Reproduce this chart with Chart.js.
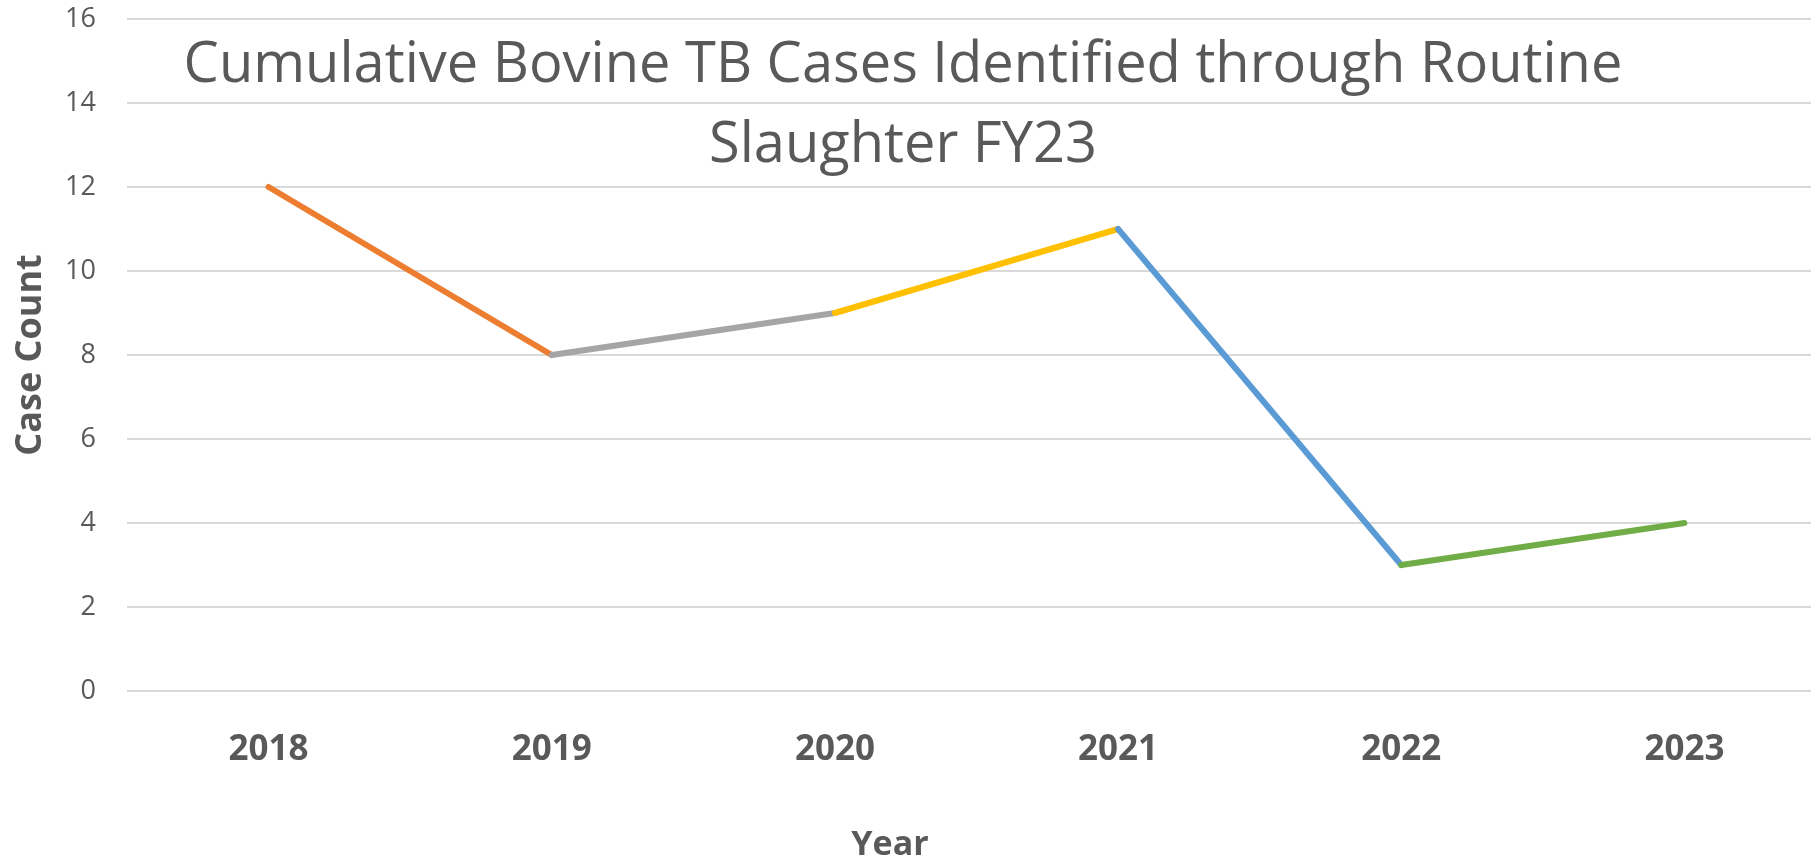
<!DOCTYPE html>
<html>
<head>
<meta charset="utf-8">
<script src="https://cdn.jsdelivr.net/npm/chart.js@4/dist/chart.umd.min.js"></script>
<style>
  html, body { margin: 0; padding: 0; background: #fff; overflow: hidden; }
  #wrap { width: 1826px; height: 863px; }
</style>
</head>
<body>
<div id="wrap"><canvas id="tb-chart" width="1826" height="863"></canvas></div>
<script>
// Chart data
const years = ['2018', '2019', '2020', '2021', '2022', '2023'];
const caseCounts = [12, 8, 9, 11, 3, 4];
const segmentColors = ['#ED7D31', '#A5A5A5', '#FFC000', '#5B9BD5', '#70AD47'];
const titleLines = ['Cumulative Bovine TB Cases Identified through Routine', 'Slaughter FY23'];
const yAxisTitle = 'Case Count';
const xAxisTitle = 'Year';

const textColor = '#595959';

// Excel-style overlay titles (drawn on top of the plot, not reserving space)
const overlayTitles = {
  id: 'overlayTitles',
  afterDraw(chart) {
    const ctx = chart.ctx;
    const area = chart.chartArea;
    ctx.save();
    ctx.fillStyle = textColor;
    ctx.textAlign = 'center';
    ctx.textBaseline = 'alphabetic';

    // chart title
    ctx.font = '56px "Open Sans"';
    ctx.fillText(titleLines[0], 903, 82);
    ctx.fillText(titleLines[1], 903, 162);

    // x axis title
    ctx.font = 'bold 34px "Open Sans"';
    ctx.fillText(xAxisTitle, 890, 855);

    // y axis title
    ctx.translate(31, (area.top + area.bottom) / 2);
    ctx.rotate(-Math.PI / 2);
    ctx.textBaseline = 'middle';
    ctx.font = 'bold 36px "Open Sans"';
    ctx.fillText(yAxisTitle, 0, 0);
    ctx.restore();
  }
};

const chartEl = document.getElementById('tb-chart');

new Chart(chartEl, {
  type: 'line',
  data: {
    labels: years,
    datasets: [{
      label: yAxisTitle,
      data: caseCounts,
      borderWidth: 6,
      borderCapStyle: 'round',
      borderJoinStyle: 'round',
      pointRadius: 0,
      pointHoverRadius: 0,
      tension: 0,
      segment: {
        borderColor: ctx => segmentColors[ctx.p0DataIndex]
      }
    }]
  },
  options: {
    responsive: false,
    animation: false,
    layout: {
      padding: { top: 19, right: 0, bottom: 0, left: 0 }
    },
    plugins: {
      legend: { display: false },
      tooltip: { enabled: false },
      title: { display: false }
    },
    scales: {
      x: {
        offset: true,
        grid: { display: false },
        border: { display: false },
        ticks: {
          color: textColor,
          padding: 30,
          font: { family: 'Open Sans', size: 35, weight: 'bold' }
        },
        afterFit(scale) {
          scale.height = 172;
          scale.paddingLeft = 0;
          scale.paddingRight = 0;
        }
      },
      y: {
        min: 0,
        max: 16,
        ticks: {
          stepSize: 2,
          color: textColor,
          padding: 31,
          font: { family: 'Open Sans', size: 27 }
        },
        grid: {
          color: '#D9D9D9',
          lineWidth: 2,
          drawTicks: false
        },
        border: { display: false },
        afterFit(scale) {
          scale.width = 127;
          scale.paddingTop = 0;
          scale.paddingBottom = 0;
        }
      }
    }
  },
  plugins: [overlayTitles]
});
</script>
</body>
</html>
